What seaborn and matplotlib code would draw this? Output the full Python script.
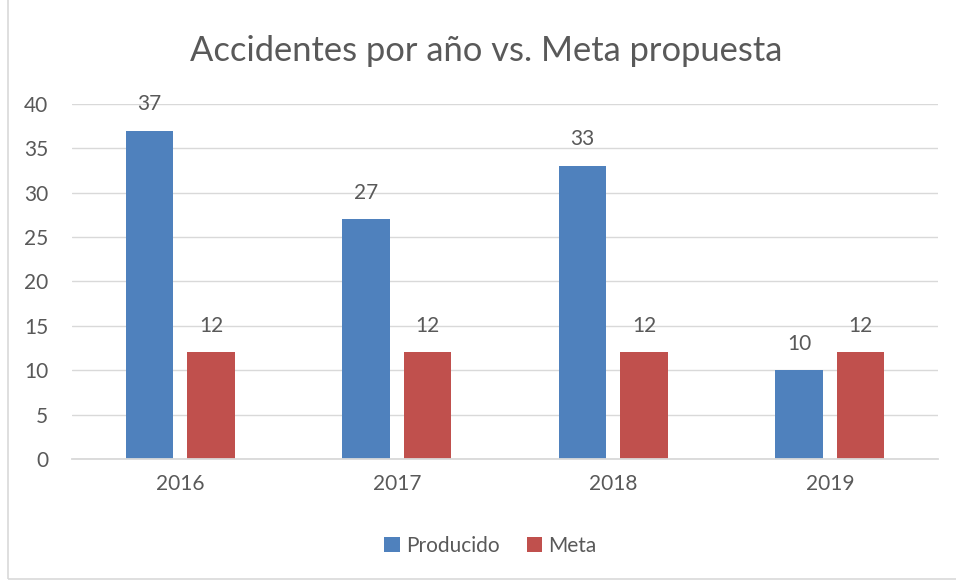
import pandas as pd
import matplotlib
matplotlib.use('Agg')
import matplotlib.pyplot as plt
import seaborn as sns
from matplotlib.patches import Rectangle

BLUE = '#4F81BD'
RED = '#C0504D'
TEXT = '#595959'
GRID = '#D9D9D9'

# datos
anios = ['2016', '2017', '2018', '2019']
producido = [37, 27, 33, 10]
meta = [12, 12, 12, 12]
series = ['Producido', 'Meta']

df = pd.DataFrame({
    'anio': anios * 2,
    'valor': producido + meta,
    'serie': ['Producido'] * 4 + ['Meta'] * 4,
})

sns.set_theme(style='white')
plt.rcParams['font.family'] = ['Lato', 'DejaVu Sans']

fig = plt.figure(figsize=(9.56, 5.81), dpi=100, facecolor='white')
ax = fig.add_axes([0.0753, 0.21, 0.9059, 0.611])

sns.barplot(data=df, x='anio', y='valor', hue='serie', hue_order=series,
            palette={'Producido': BLUE, 'Meta': RED}, width=0.568, gap=0.22,
            ax=ax, legend=True, saturation=1, linewidth=0)

ax.set_ylim(0, 40)
ax.set_yticks(range(0, 41, 5))
ax.set_xlim(-0.5, 3.5)
ax.grid(True, axis='y', color=GRID, linewidth=1)
ax.set_axisbelow(True)
for s in ['top', 'right', 'left']:
    ax.spines[s].set_visible(False)
ax.spines['bottom'].set_color(GRID)
ax.spines['bottom'].set_linewidth(1.3)
ax.tick_params(axis='both', length=0, labelsize=15, colors=TEXT)
ax.tick_params(axis='x', pad=11)
ax.tick_params(axis='y', pad=17)
ax.set_xlabel('')
ax.set_ylabel('')

for cont in ax.containers:
    ax.bar_label(cont, padding=12, fontsize=15, color=TEXT)

fig.suptitle('Accidentes por año vs. Meta propuesta', x=0.509, y=0.94,
             fontsize=24.8, color=TEXT)

ax.legend(loc='center', bbox_to_anchor=(0.483, -0.245), ncol=2, frameon=False,
          fontsize=15, labelcolor=TEXT, handlelength=0.75, handleheight=0.75,
          handletextpad=0.3, columnspacing=1.3)

fig.patches.append(Rectangle((8 / 956, 2 / 581), 1.2, 1.2, transform=fig.transFigure,
                             fill=False, edgecolor=GRID, linewidth=1.2))

fig.savefig('out.png', dpi=100, facecolor='white')
